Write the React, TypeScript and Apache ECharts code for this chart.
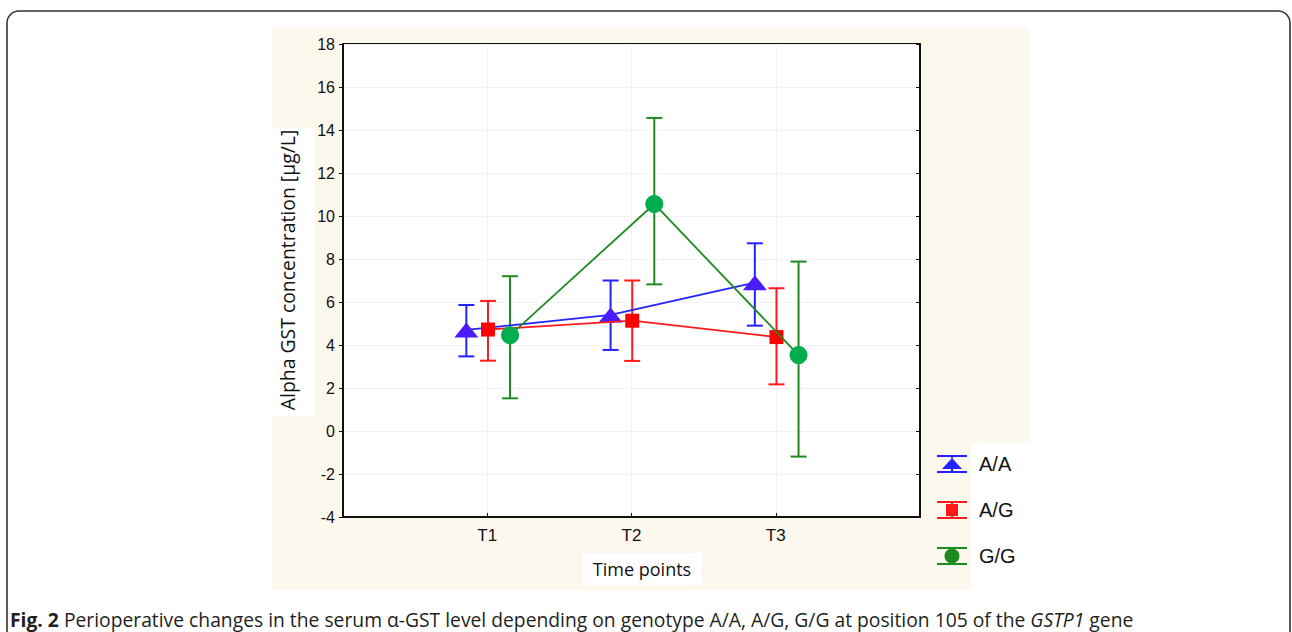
import React, { useEffect, useRef } from "react";
import * as echarts from "echarts";

// ---- data ----
const categories = ["T1", "T2", "T3"];
const genotypes = ["A/A", "A/G", "G/G"];
const xOffsets = [-0.145, 0.005, 0.158];

const aaMean = [4.7, 5.4, 6.9];
const aaLow = [3.47, 3.77, 4.9];
const aaHigh = [5.86, 7.0, 8.73];

const agMean = [4.72, 5.13, 4.37];
const agLow = [3.27, 3.26, 2.17];
const agHigh = [6.05, 7.0, 6.64];

const ggMean = [4.45, 10.56, 3.53];
const ggLow = [1.52, 6.82, -1.19];
const ggHigh = [7.2, 14.56, 7.88];

const yTicksMin = -4;
const yTicksMax = 18;

const means = [aaMean, agMean, ggMean];
const lows = [aaLow, agLow, ggLow];
const highs = [aaHigh, agHigh, ggHigh];

const lineColors = ["#2323ff", "#ff1a1a", "#1f8a1f"];
const markerColors = ["#4a1cff", "#ff0000", "#00ad4f"];
const symbols = ["triangle", "rect", "circle"];
const symbolSizes: any[] = [[24, 15], 14, 18];

const legendIcons = [
  "path://M0,0H30V2H0ZM0,16H30V18H0ZM14,2H16V4H14ZM14,14H16V16H14ZM5,14L25,14L15,3Z",
  "path://M0,0H30V2H0ZM0,16H30V18H0ZM14,2H16V4H14ZM14,14H16V16H14ZM9,3H21V15H9Z",
  "path://M0,0H30V2H0ZM0,16H30V18H0ZM14,2H16V4H14ZM14,14H16V16H14ZM15,1.5A7.5,7.5,0,1,1,14.99,1.5Z",
];

const caption =
  "{b|Fig. 2} Perioperative changes in the serum α-GST level depending on genotype A/A, A/G, G/G at position 105 of the {i|GSTP1} gene";

const tickFont = "Liberation Sans";
const captionSize = 19.3;

export default function App() {
  const ref = useRef<HTMLDivElement>(null);

  useEffect(() => {
    if (!ref.current) return;
    const chart = echarts.init(ref.current, undefined, { renderer: "svg" });

    const lineSeries = genotypes.map((name, gi) => ({
      type: "line",
      name,
      z: 5 + gi,
      data: categories.map((_, ci) => [ci + 1 + xOffsets[gi], means[gi][ci]]),
      symbol: symbols[gi],
      symbolSize: symbolSizes[gi],
      showSymbol: true,
      color: markerColors[gi],
      itemStyle: { color: markerColors[gi] },
      lineStyle: { color: lineColors[gi], width: 1.8 },
      emphasis: { disabled: true },
    }));

    const errSeries = genotypes.map((name, gi) => ({
      type: "custom",
      name,
      z: 2 + gi,
      clip: false,
      data: categories.map((_, ci) => [ci + 1 + xOffsets[gi], lows[gi][ci], highs[gi][ci]]),
      renderItem: (params: any, api: any) => {
        const x = api.value(0);
        const lo = api.coord([x, api.value(1)]);
        const hi = api.coord([x, api.value(2)]);
        const cw = 8;
        const style = { stroke: lineColors[gi], lineWidth: 2 };
        return {
          type: "group",
          children: [
            { type: "line", shape: { x1: lo[0], y1: lo[1], x2: hi[0], y2: hi[1] }, style },
            { type: "line", shape: { x1: hi[0] - cw, y1: hi[1], x2: hi[0] + cw, y2: hi[1] }, style },
            { type: "line", shape: { x1: lo[0] - cw, y1: lo[1], x2: lo[0] + cw, y2: lo[1] }, style },
          ],
        };
      },
      encode: { x: 0, y: [1, 2] },
    }));

    chart.setOption({
      animation: false,
      backgroundColor: "#ffffff",
      title: {
        left: 10,
        top: 610,
        padding: 0,
        text: caption,
        textStyle: {
          fontSize: captionSize,
          fontWeight: "normal",
          fontFamily: "Open Sans",
          color: "#231f20",
          rich: {
            b: { fontWeight: "bold", fontSize: captionSize, fontFamily: "Open Sans", color: "#231f20" },
            i: { fontStyle: "italic", fontSize: captionSize, fontFamily: "Open Sans", color: "#231f20" },
          },
        },
      },
      graphic: [
        {
          type: "rect",
          z: -20,
          shape: { x: 7, y: 11, width: 1283, height: 700, r: 12 },
          style: { fill: "none", stroke: "#333", lineWidth: 1.6 },
        },
        {
          type: "rect",
          z: -20,
          shape: { x: 272, y: 28, width: 758, height: 562 },
          style: { fill: "#fdf8ee" },
        },
        {
          type: "rect",
          z: -19,
          shape: { x: 272, y: 128, width: 43, height: 288 },
          style: { fill: "#ffffff" },
        },
        {
          type: "rect",
          z: -19,
          shape: { x: 583, y: 553, width: 119, height: 32 },
          style: { fill: "#ffffff" },
        },
        {
          type: "rect",
          z: -19,
          shape: { x: 971, y: 443, width: 59, height: 147 },
          style: { fill: "#ffffff" },
        },
        {
          type: "text",
          z: 10,
          x: 287,
          y: 270,
          rotation: Math.PI / 2,
          style: {
            text: "Alpha GST concentration [µg/L]",
            fontSize: 19.4,
            fontFamily: "Open Sans",
            fill: "#111",
            align: "center",
            verticalAlign: "middle",
          },
        },
        {
          type: "text",
          z: 10,
          x: 642,
          y: 569,
          style: {
            text: "Time points",
            fontSize: 18,
            fontFamily: "Open Sans",
            fill: "#111",
            align: "center",
            verticalAlign: "middle",
          },
        },
      ],
      legend: {
        orient: "vertical",
        left: 937,
        top: 454,
        padding: 0,
        itemWidth: 30,
        itemHeight: 18,
        itemGap: 26,
        selectedMode: false,
        textStyle: {
          fontSize: 20,
          fontFamily: tickFont,
          color: "#111",
          padding: [0, 0, 0, 7],
        },
        data: genotypes.map((name, gi) => ({
          name,
          icon: legendIcons[gi],
          itemStyle: { color: lineColors[gi] },
        })),
      },
      grid: {
        left: 343,
        top: 44,
        right: 372,
        bottom: 115,
        show: true,
        backgroundColor: "#ffffff",
        borderColor: "#111",
        borderWidth: 2,
      },
      xAxis: {
        type: "value",
        min: 0,
        max: categories.length + 1,
        interval: 1,
        axisLine: { show: true, onZero: false, lineStyle: { color: "#111", width: 2 } },
        axisTick: { show: true, inside: true, length: 4, lineStyle: { color: "#111" } },
        splitLine: { show: true, lineStyle: { color: "#f2f2f2", width: 1 } },
        axisLabel: {
          margin: 10,
          fontSize: 17,
          fontFamily: tickFont,
          color: "#111",
          formatter: (v: number) => categories[v - 1] ?? "",
        },
      },
      yAxis: [
        {
          type: "value",
          min: yTicksMin,
          max: yTicksMax,
          interval: 2,
          axisLine: { show: true, onZero: false, lineStyle: { color: "#111", width: 2 } },
          axisTick: { show: true, length: 4, lineStyle: { color: "#111" } },
          splitLine: { show: true, lineStyle: { color: "#f2f2f2", width: 1 } },
          axisLabel: {
            margin: 8,
            fontSize: 16,
            fontFamily: tickFont,
            color: "#111",
          },
        },
        {
          type: "value",
          position: "right",
          min: yTicksMin,
          max: yTicksMax,
          interval: 2,
          axisLine: { show: true, onZero: false, lineStyle: { color: "#111", width: 2 } },
          axisTick: { show: true, inside: true, length: 4, lineStyle: { color: "#111" } },
          splitLine: { show: false },
          axisLabel: { show: false },
        },
      ],
      series: [...errSeries, ...lineSeries],
    });

    return () => chart.dispose();
  }, []);

  return (
    <div
      ref={ref}
      style={{ position: "fixed", left: 0, top: 0, width: 1292, height: 632 }}
    />
  );
}
